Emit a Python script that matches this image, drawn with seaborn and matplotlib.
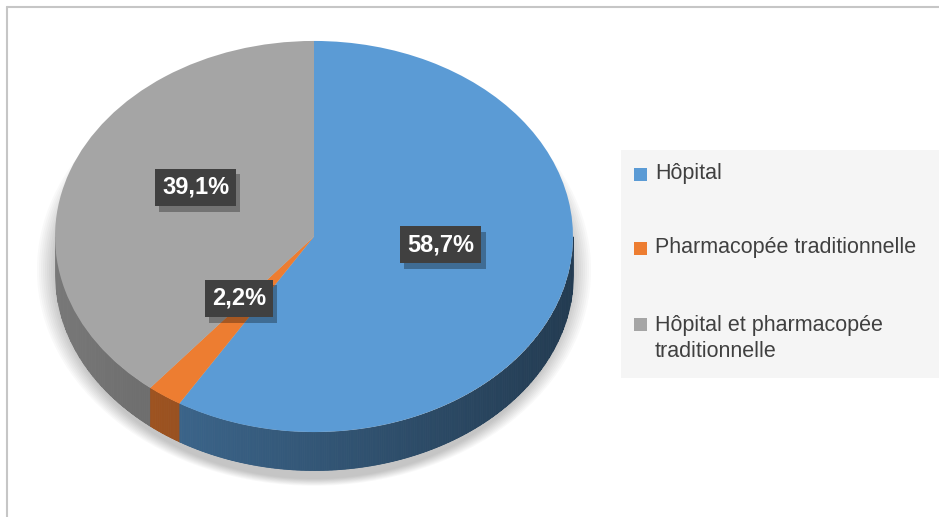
import numpy as np
import matplotlib
matplotlib.use('Agg')
import matplotlib.pyplot as plt
import matplotlib.colors as mcolors
import matplotlib.patheffects as pe
from matplotlib import font_manager
from matplotlib.patches import Ellipse, Rectangle
from matplotlib.lines import Line2D
import seaborn as sns

# data
categories = ['Hôpital', 'Pharmacopée traditionnelle', 'Hôpital et pharmacopée\ntraditionnelle']
shares = [58.7, 2.2, 39.1]
pct_labels = ['58,7%', '2,2%', '39,1%']

sns.set_theme(style='white')
palette = ['#5b9bd5', '#ed7d31', '#a5a5a5']
plt.rcParams['font.family'] = ['Liberation Sans', 'DejaVu Sans']

names = {f.name for f in font_manager.fontManager.ttflist}
narrow = 'Liberation Sans Narrow' in names
label_font = 'Liberation Sans Narrow' if narrow else 'Liberation Sans'
label_size = 20 if narrow else 17

W, H = 939, 517
fig = plt.figure(figsize=(W / 100, H / 100), dpi=100)
fig.patch.set_facecolor('white')
ax = fig.add_axes([25 / W, 1 - 495 / H, 578 / W, 465 / H])

depth = 0.194  # thickness of the 3d pie, in y units

# soft shadow under the pie
for s in np.linspace(0.07, 0.0, 10):
    ax.add_patch(Ellipse((0, -0.17), 2 * (1 + s), 2 * (1.07 + 0.5 * s),
                         color='black', alpha=0.022, lw=0, zorder=0))

# side of the pie: vertical strips along the front rim
bounds = np.cumsum([0] + shares) / 100.0  # clockwise from 12 o'clock
bx = [np.cos(np.pi / 2 - 2 * np.pi * b) for b in bounds if 0.25 < b < 0.75]
xs = np.unique(np.concatenate([np.linspace(-1, 1, 401), bx]))
for x0, x1 in zip(xs[:-1], xs[1:]):
    xm = (x0 + x1) / 2
    theta = -np.arccos(xm)
    frac = ((np.pi / 2 - theta) % (2 * np.pi)) / (2 * np.pi)
    idx = min(np.searchsorted(bounds, frac, side='right') - 1, len(shares) - 1)
    k = 0.65 - 0.1724 * (xm + 0.55)
    col = np.clip(np.array(mcolors.to_rgb(palette[idx])) * k, 0, 1)
    xx = np.linspace(x0, x1, 3)
    top = -np.sqrt(np.clip(1 - xx ** 2, 0, None))
    ax.fill_between(xx, top - depth, top, color=col, lw=0.6, zorder=1)

# top surface
wedges, _ = ax.pie(shares, colors=palette, startangle=90, counterclock=False,
                   radius=1, center=(0, 0), wedgeprops=dict(linewidth=0))
for w in wedges:
    w.set_zorder(2)

ax.set_aspect('auto')
ax.set_xlim(-1.116, 1.116)
ax.set_ylim(-1.322, 1.056)
ax.axis('off')

# data labels
label_pos = [(0.490, -0.043), (-0.290, -0.317), (-0.457, 0.251)]
for (x, y), txt in zip(label_pos, pct_labels):
    t = ax.text(x, y, txt, ha='center', va='center', color='white',
                fontsize=label_size, fontweight='bold', family=label_font, zorder=4,
                bbox=dict(boxstyle='square,pad=0.3', fc='#404040', ec='none'))
    t.get_bbox_patch().set_path_effects([
        pe.SimplePatchShadow(offset=(3, -4), shadow_rgbFace='black', alpha=0.3),
        pe.Normal()])

# legend
fig.add_artist(Rectangle((621 / W, 1 - 378 / H), 318 / W, 228 / H,
                         transform=fig.transFigure, color='#f5f5f5', lw=0, zorder=0))
marker_y = [174, 248.5, 324]
text_y = [173, 248, 338.5]
for col, lab, my, ty in zip(palette, categories, marker_y, text_y):
    fig.add_artist(Rectangle((634 / W, 1 - (my + 6.5) / H), 13 / W, 13 / H,
                             transform=fig.transFigure, color=col, lw=0))
    fig.text(655 / W, 1 - ty / H, lab, ha='left', va='center', fontsize=15.5,
             color='#404040', linespacing=1.35)

# chart border
fig.add_artist(Line2D([6.5 / W, 1], [1 - 6.5 / H, 1 - 6.5 / H], color='#c6c6c6', lw=1.5,
                      transform=fig.transFigure))
fig.add_artist(Line2D([6.5 / W, 6.5 / W], [0, 1 - 6.5 / H], color='#c6c6c6', lw=1.5,
                      transform=fig.transFigure))

fig.savefig('out.png', dpi=100, facecolor='white')
